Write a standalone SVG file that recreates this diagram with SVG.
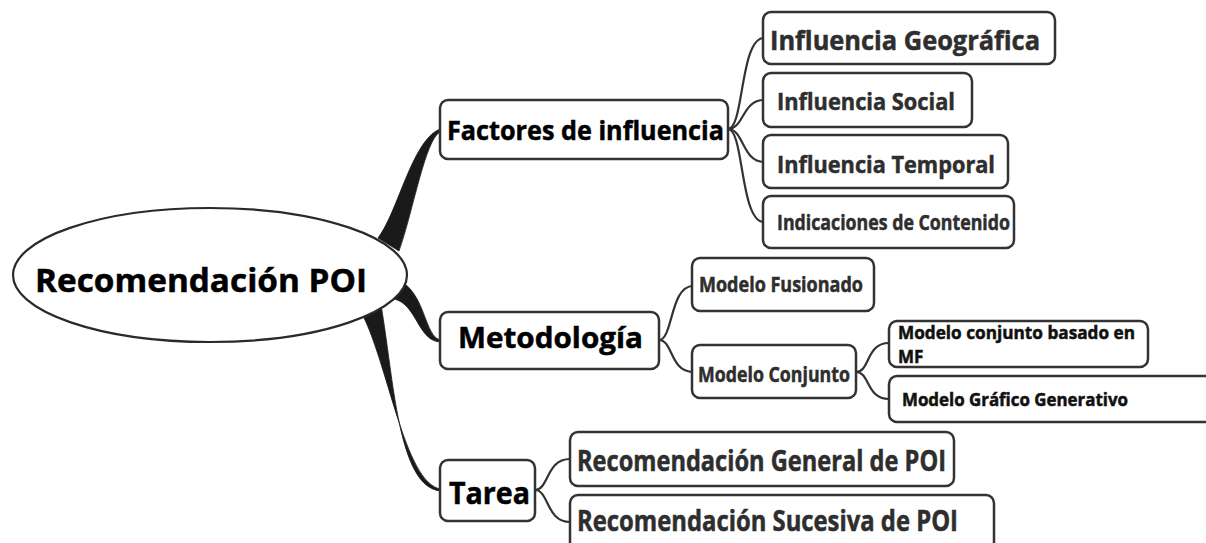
<svg xmlns="http://www.w3.org/2000/svg" width="1206" height="543" viewBox="0 0 1206 543">
  <style>
    .box { fill: #ffffff; stroke: #333333; stroke-width: 2.5; }
    .root { fill: #ffffff; stroke: #2a2a2a; stroke-width: 2.2; }
    .t { font-family: "Open Sans", "Noto Sans", "Liberation Sans", sans-serif; font-weight: bold; stroke-width: 0.5; }
    .t1 { fill: #000000; stroke: #000000; }
    .t2 { fill: #2e2e2e; stroke: #2e2e2e; }
    .t3 { fill: #111111; stroke: #111111; }
    .link { fill: none; stroke: #333333; stroke-width: 2.2; }
    .trunk { fill: #1a1a1a; stroke: #1a1a1a; stroke-width: 0.8; }
  </style>

  <rect width="1206" height="543" fill="#ffffff"/>

  <!-- connectors -->
  <g id="connectors">
    <!-- tapered trunks from the central topic -->
    <path class="trunk" d="M378,238 C398,212 412,140 440,129 L440,132 C425,140 413,212 399,251 Z"/>
    <path class="trunk" d="M396,279 C426,290 424,338 441,340 L441,342 C418,342 417,304 394,299 Z"/>
    <path class="trunk" d="M360,310 C388,360 404,484 441,489 L441,491 C398,488 394,380 381,305 Z"/>
    <!-- Factores de influencia -->
    <path class="link" d="M728,129 C744,129 740,38 764,38"/>
    <path class="link" d="M728,129 C744,129 742,100 764,100"/>
    <path class="link" d="M728,129 C744,129 742,162 764,162"/>
    <path class="link" d="M728,129 C744,129 740,222 764,222"/>
    <!-- Metodología -->
    <path class="link" d="M659,340 C673,340 670,286 693,286"/>
    <path class="link" d="M659,340 C673,340 670,372 693,372"/>
    <!-- Modelo Conjunto -->
    <path class="link" d="M856,372 C870,372 866,343 889,343"/>
    <path class="link" d="M856,372 C870,372 866,399 889,399"/>
    <!-- Tarea -->
    <path class="link" d="M535,490 C549,490 546,459 570,459"/>
    <path class="link" d="M535,490 C549,490 546,522 570,522"/>
  </g>

  <!-- central topic -->
  <g id="node-root">
    <ellipse class="root" cx="210" cy="275" rx="197" ry="67"/>
    <text class="t t1" x="35" y="292" font-size="33" textLength="332" lengthAdjust="spacingAndGlyphs">Recomendación POI</text>
  </g>

  <!-- first level -->
  <g id="node-factores">
    <rect class="box" x="440" y="100" width="288" height="59" rx="8"/>
    <text class="t t1" x="447" y="140" font-size="27" textLength="277" lengthAdjust="spacingAndGlyphs">Factores de influencia</text>
  </g>
  <g id="node-metodologia">
    <rect class="box" x="440" y="312" width="219" height="57" rx="8"/>
    <text class="t t1" x="458" y="348" font-size="29" textLength="185" lengthAdjust="spacingAndGlyphs">Metodología</text>
  </g>
  <g id="node-tarea">
    <rect class="box" x="440" y="460" width="95" height="61" rx="8"/>
    <text class="t t1" x="449" y="504" font-size="31" textLength="81" lengthAdjust="spacingAndGlyphs">Tarea</text>
  </g>

  <!-- Factores de influencia children -->
  <g id="node-geografica">
    <rect class="box" x="763" y="12" width="292" height="52" rx="8"/>
    <text class="t t2" x="770" y="50" font-size="27" textLength="270" lengthAdjust="spacingAndGlyphs">Influencia Geográfica</text>
  </g>
  <g id="node-social">
    <rect class="box" x="763" y="73" width="209" height="54" rx="8"/>
    <text class="t t2" x="777" y="110" font-size="24" textLength="178" lengthAdjust="spacingAndGlyphs">Influencia Social</text>
  </g>
  <g id="node-temporal">
    <rect class="box" x="763" y="135" width="245" height="53" rx="8"/>
    <text class="t t2" x="777" y="173" font-size="24" textLength="218" lengthAdjust="spacingAndGlyphs">Influencia Temporal</text>
  </g>
  <g id="node-contenido">
    <rect class="box" x="763" y="196" width="251" height="52" rx="8"/>
    <text class="t t2" x="777" y="230" font-size="21" textLength="233" lengthAdjust="spacingAndGlyphs">Indicaciones de Contenido</text>
  </g>

  <!-- Metodología children -->
  <g id="node-fusionado">
    <rect class="box" x="692" y="258" width="182" height="53" rx="8"/>
    <text class="t t2" x="699" y="292" font-size="21" textLength="164" lengthAdjust="spacingAndGlyphs">Modelo Fusionado</text>
  </g>
  <g id="node-conjunto">
    <rect class="box" x="692" y="345" width="164" height="53" rx="8"/>
    <text class="t t2" x="698" y="382" font-size="21" textLength="152" lengthAdjust="spacingAndGlyphs">Modelo Conjunto</text>
  </g>

  <!-- Modelo Conjunto children -->
  <g id="node-mf">
    <rect class="box" x="889" y="321" width="259" height="46" rx="8"/>
    <text class="t t3" font-size="17">
      <tspan x="898" y="339" textLength="237" lengthAdjust="spacingAndGlyphs">Modelo conjunto basado en</tspan>
      <tspan x="898" y="363">MF</tspan>
    </text>
  </g>
  <g id="node-generativo">
    <rect class="box" x="889" y="376" width="330" height="46" rx="8"/>
    <text class="t t3" x="902" y="406" font-size="17" textLength="226" lengthAdjust="spacingAndGlyphs">Modelo Gráfico Generativo</text>
  </g>

  <!-- Tarea children -->
  <g id="node-general">
    <rect class="box" x="570" y="432" width="384" height="54" rx="8"/>
    <text class="t t2" x="577" y="471" font-size="28" textLength="369" lengthAdjust="spacingAndGlyphs">Recomendación General de POI</text>
  </g>
  <g id="node-sucesiva">
    <rect class="box" x="570" y="495" width="424" height="60" rx="8"/>
    <text class="t t2" x="577" y="531" font-size="28" textLength="381" lengthAdjust="spacingAndGlyphs">Recomendación Sucesiva de POI</text>
  </g>
</svg>
